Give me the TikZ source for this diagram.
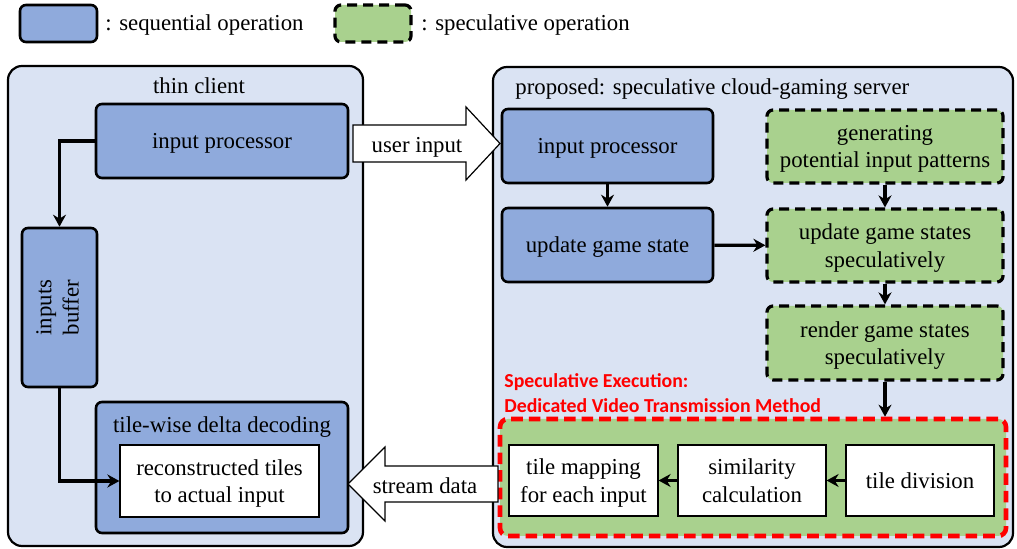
\documentclass[tikz,border=0pt]{standalone}
\usepackage{fontspec}
\setmainfont{Liberation Serif}
\newfontfamily\calibfont{Carlito}
\usetikzlibrary{arrows.meta}
\definecolor{bgblue}{HTML}{DAE3F3}
\definecolor{seqblue}{HTML}{8FAADC}
\definecolor{specgreen}{HTML}{A9D18E}
\definecolor{redline}{HTML}{FF0000}
\tikzset{
 px/.style={x=0.5pt,y=-0.5pt},
 panel/.style={draw=black, line width=1.1pt, fill=bgblue, rounded corners=7pt, inner sep=0},
 seqbox/.style={draw=black, line width=1.3pt, fill=seqblue, rounded corners=3pt, inner sep=0, align=center, text depth=-0.5pt},
 specbox/.style={draw=black, line width=1.6pt, fill=specgreen, dash pattern=on 5pt off 3pt, rounded corners=3pt, align=center, inner sep=0, text depth=-0.5pt},
 redframe/.style={draw=redline, line width=2.3pt, fill=specgreen, dash pattern=on 5.8pt off 3pt, rounded corners=4pt, inner sep=0},
 whitebox/.style={draw=black, line width=0.6pt, fill=white, align=center, inner sep=0, text depth=-0.5pt},
 flow/.style={line width=1.6pt, -{Stealth[length=6pt,width=6.5pt]}},
 blockarrow/.style={draw=black, line width=0.6pt, fill=white},
 lbl/.style={inner sep=0},
 redlbl/.style={inner sep=0, anchor=west, text=redline, font=\calibfont\bfseries\fontsize{9.9}{12}\selectfont},
}
\begin{document}
\begin{tikzpicture}[px, font=\fontsize{11.4}{13.7}\selectfont]
\useasboundingbox (0,0) rectangle (1017,549);
% legend
\node[seqbox, minimum width=38.5pt, minimum height=18.5pt] (legseq) at (58.5,23.5) {};
\node[lbl, anchor=west] (legseqtxt) at (105,25) {: sequential operation};
\node[specbox, minimum width=38pt, minimum height=18.5pt] (legspec) at (373,23.5) {};
\node[lbl, anchor=west] (legspectxt) at (421,25) {: speculative operation};
% panels
\node[panel, minimum width=177.5pt, minimum height=240pt] (client) at (185.5,306) {};
\node[lbl] (clienttitle) at (199,86) {thin client};
\node[panel, minimum width=260pt, minimum height=240pt] (server) at (753,307) {};
\node[lbl, anchor=west] (servertitle) at (515,89) {proposed: speculative cloud-gaming server};
% client
\node[seqbox, minimum width=126pt, minimum height=37pt] (cip) at (222,141) {input processor};
\node[seqbox, minimum width=37.5pt, minimum height=79.5pt, text depth=] (buffer) at (59.5,307.5)
  {\rotatebox{90}{\begin{tabular}{@{}c@{}}inputs\\buffer\end{tabular}}};
\node[seqbox, minimum width=126pt, minimum height=65.5pt] (decode) at (222,467.5) {};
\node[lbl] (decodetitle) at (222,427) {tile-wise delta decoding};
\node[whitebox, minimum width=99.5pt, minimum height=36pt] (recon) at (219.5,481) {reconstructed tiles\\to actual input};
\draw[flow] (cip.west) -| (buffer.north);
\draw[flow] (buffer.south) |- (recon.west);
% server
\node[seqbox, minimum width=105.5pt, minimum height=37pt] (sip) at (607.5,146) {input processor};
\node[seqbox, minimum width=105.5pt, minimum height=37pt] (ugs) at (607.5,245) {update game state};
\node[specbox, minimum width=118pt, minimum height=36.5pt] (gen) at (885,146.5) {generating\\potential input patterns};
\node[specbox, minimum width=118pt, minimum height=36.5pt] (ugss) at (885,245.5) {update game states\\speculatively};
\node[specbox, minimum width=118pt, minimum height=37pt] (render) at (885,343) {render game states\\speculatively};
\node[redlbl] (redl1) at (504,382) {Speculative Execution:};
\node[redlbl] (redl2) at (504,406) {Dedicated Video Transmission Method};
\node[redframe, minimum width=253pt, minimum height=58.5pt] (redbox) at (753,477.5) {};
\node[whitebox, minimum width=74.5pt, minimum height=35.5pt] (tmap) at (583.5,480.5) {tile mapping\\for each input};
\node[whitebox, minimum width=74pt, minimum height=35.5pt] (sim) at (752,480.5) {similarity\\calculation};
\node[whitebox, minimum width=74pt, minimum height=35.5pt] (tdiv) at (920,480.5) {tile division};
\draw[flow] (sip) -- (ugs);
\draw[flow] (gen) -- (ugss);
\draw[flow] (ugs) -- (ugss);
\draw[flow] (ugss) -- (render);
\draw[flow] (render.south) -- (render.south |- redbox.north);
\draw[flow] (tdiv) -- (sim);
\draw[flow] (sim) -- (tmap);
% block arrows
\draw[blockarrow] (353,125) -- (466,125) -- (466,107) -- (500,143.5) -- (466,180) -- (466,162) -- (353,162) -- cycle;
\node[lbl] (userinput) at (417,147) {user input};
\draw[blockarrow] (498,466) -- (385,466) -- (385,447) -- (348,484) -- (385,521) -- (385,502) -- (498,502) -- cycle;
\node[lbl] (streamdata) at (425,486) {stream data};
\end{tikzpicture}
\end{document}
